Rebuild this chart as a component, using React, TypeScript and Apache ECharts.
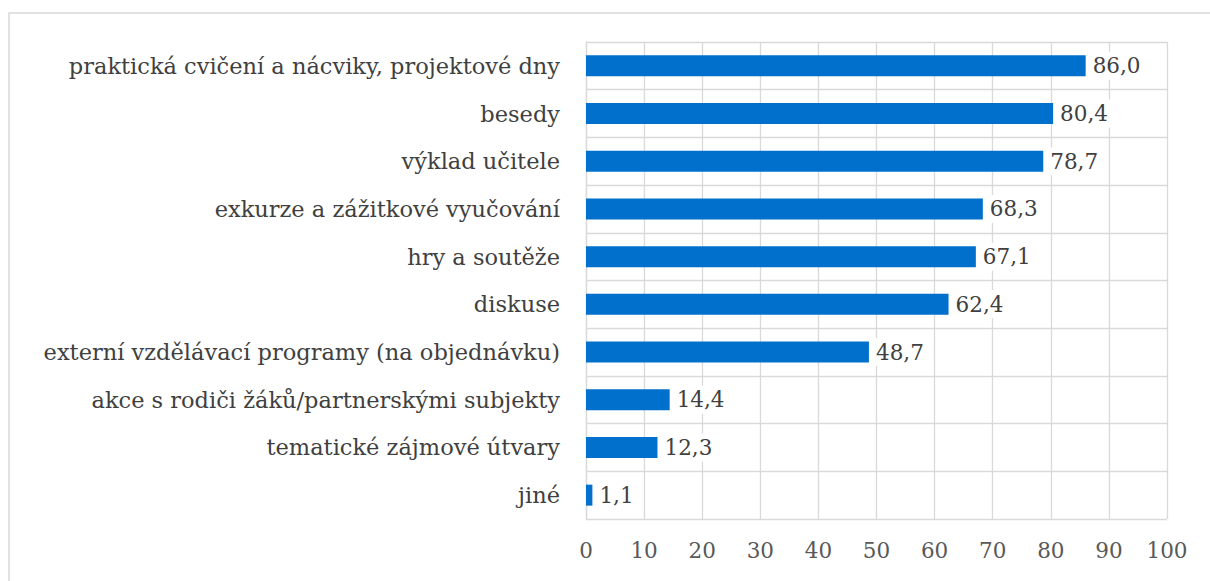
import React, { useEffect, useRef } from "react";
import * as echarts from "echarts";

const categories = [
  "praktická cvičení a nácviky, projektové dny",
  "besedy",
  "výklad učitele",
  "exkurze a zážitkové vyučování",
  "hry a soutěže",
  "diskuse",
  "externí vzdělávací programy (na objednávku)",
  "akce s rodiči žáků/partnerskými subjekty",
  "tematické zájmové útvary",
  "jiné",
];
const values = [86.0, 80.4, 78.7, 68.3, 67.1, 62.4, 48.7, 14.4, 12.3, 1.1];

export default function App() {
  const ref = useRef<HTMLDivElement>(null);
  useEffect(() => {
    document.body.style.margin = "0";
    const chart = echarts.init(ref.current!, undefined, { renderer: "svg" });
    const font = "DejaVu Serif";
    chart.setOption({
      animation: false,
      backgroundColor: "#ffffff",
      graphic: [
        {
          type: "rect",
          shape: { x: 9, y: 13, width: 1210, height: 600 },
          style: { fill: "none", stroke: "#d9d9d9", lineWidth: 1.5 },
          silent: true,
        },
      ],
      grid: { left: 586, right: 43, top: 42, bottom: 62, containLabel: false },
      xAxis: {
        type: "value",
        min: 0,
        max: 100,
        interval: 10,
        axisLine: { show: false },
        axisTick: { show: false },
        splitLine: { show: true, lineStyle: { color: "#d9d9d9", width: 1.3 } },
        axisLabel: {
          color: "#595959",
          fontFamily: font,
          fontSize: 21.5,
          margin: 20,
        },
      },
      yAxis: {
        type: "category",
        inverse: true,
        data: categories,
        axisLine: { show: true, lineStyle: { color: "#d9d9d9", width: 1.3 } },
        axisTick: { show: false },
        splitLine: { show: true, lineStyle: { color: "#d9d9d9", width: 1.3 } },
        axisLabel: {
          color: "#404040",
          fontFamily: font,
          fontSize: 22.5,
          margin: 26,
        },
      },
      series: [
        {
          type: "bar",
          data: values,
          barWidth: "44%",
          itemStyle: { color: "#0070cc" },
          label: {
            show: true,
            position: "right",
            distance: 3,
            color: "#404040",
            fontFamily: font,
            fontSize: 21.5,
            backgroundColor: "#ffffff",
            padding: [3, 4, 3, 4],
            formatter: (p: any) => p.value.toFixed(1).replace(".", ","),
          },
        },
      ],
    });
    return () => chart.dispose();
  }, []);
  return <div ref={ref} style={{ width: 1210, height: 581 }} />;
}
